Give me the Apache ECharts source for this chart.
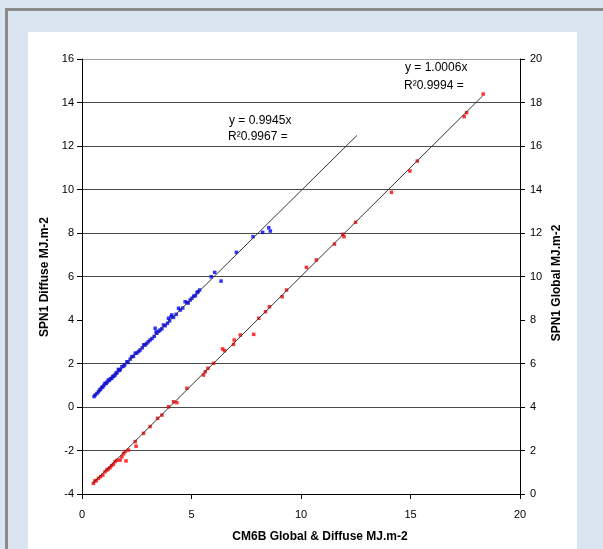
<!DOCTYPE html>
<html><head><meta charset="utf-8">
<script src="https://cdn.jsdelivr.net/npm/echarts@6/dist/echarts.min.js"></script>
<style>
html,body{margin:0;padding:0;width:603px;height:549px;overflow:hidden;background:#dbe5f1;}
#topb{position:absolute;left:5px;top:8px;width:598px;height:3px;background:#8a8a8a;}
#leftb{position:absolute;left:5px;top:8px;width:3px;height:541px;background:#8a8a8a;}
#panel{position:absolute;left:28px;top:32px;width:549px;height:517px;background:#fff;}
#c{position:absolute;left:0;top:0;width:603px;height:549px;}
</style></head>
<body>
<div id="topb"></div><div id="leftb"></div><div id="panel"></div>
<div id="c"></div>
<script>
// Axis titles
const xTitle = 'CM6B Global & Diffuse MJ.m-2';
const yLeftTitle = 'SPN1 Diffuse MJ.m-2';
const yRightTitle = 'SPN1 Global MJ.m-2';

// Diffuse (blue, left axis): CM6B x vs SPN1 y
const diffuseX = [0.55,0.6,0.68,0.75,0.8,0.85,0.9,0.95,1.0,1.05,1.1,1.15,1.2,1.25,1.3,1.36,1.4,1.45,1.51,1.55,1.6,1.66,1.7,1.75,1.82,1.9,1.95,2.05,2.1,2.2,2.27,2.35,2.43,2.5,2.58,2.65,2.75,2.82,2.88,2.95,3.03,3.11,3.2,3.3,3.34,3.38,3.42,3.5,3.57,3.65,3.72,3.8,3.9,3.95,4.0,4.07,4.1,4.18,4.3,4.41,4.49,4.6,4.71,4.79,4.85,4.94,5.02,5.1,5.18,5.25,5.3,5.37,5.9,6.06,6.35,7.05,7.81,8.25,8.53,8.6];
const diffuseY = [0.48,0.55,0.62,0.7,0.78,0.82,0.9,0.92,1.0,1.09,1.08,1.15,1.24,1.22,1.3,1.32,1.4,1.42,1.47,1.55,1.58,1.73,1.68,1.72,1.85,1.88,1.94,2.08,2.05,2.2,2.31,2.33,2.47,2.48,2.55,2.62,2.72,2.86,2.85,2.92,3.0,3.08,3.15,3.25,3.62,3.45,3.39,3.48,3.54,3.6,3.77,3.74,3.85,4.08,3.96,4.15,4.23,4.12,4.26,4.54,4.46,4.55,4.84,4.8,4.78,4.92,5.0,5.1,5.12,5.26,5.3,5.38,5.99,6.19,5.79,7.11,7.83,8.03,8.24,8.09];

// Global (red, right axis)
const globalX = [0.52,0.59,0.65,0.75,0.85,0.95,1.05,1.13,1.2,1.28,1.35,1.43,1.51,1.6,1.74,1.82,1.9,1.97,2.01,2.12,2.43,2.47,2.81,3.11,3.45,3.65,3.95,4.18,4.33,4.79,5.55,5.63,5.75,6.01,6.42,6.51,6.92,6.95,7.23,7.84,8.07,8.38,8.56,9.14,9.34,10.25,10.7,11.53,11.91,11.96,12.49,14.13,14.97,15.31,17.45,17.56,18.32];
const globalY = [0.49,0.6,0.62,0.72,0.8,0.87,1.02,1.1,1.15,1.21,1.3,1.37,1.49,1.55,1.56,1.71,1.85,1.95,1.52,2.02,2.41,2.2,2.79,3.1,3.48,3.63,4.01,4.24,4.2,4.86,5.47,5.62,5.78,6.01,6.67,6.59,6.88,7.08,7.31,7.34,8.08,8.38,8.61,9.07,9.38,10.42,10.76,11.49,11.94,11.83,12.49,13.87,14.85,15.31,17.35,17.53,18.39];

// Trendlines (Excel linear, forced through zero)
const diffuseSlope = 0.9945, diffuseTrendX = [0.5, 12.55];
const globalSlope = 1.0006, globalTrendX = [0.5, 18.3];
const diffuseLabel = ['y = 0.9945x', 'R\u00b20.9967 ='];
const globalLabel = ['y = 1.0006x', 'R\u00b20.9994 ='];

const leftTicks = {min:-4, max:16, interval:2};
const rightTicks = {min:0, max:20, interval:2};
const xTicks = {min:0, max:20, interval:5};

const zip = (a,b) => a.map((v,i)=>[v,b[i]]);
const FONT = '"Liberation Sans", Arial, sans-serif';
const labelStyle = {color:'#000', fontSize:11, fontFamily:FONT};
const GRID = '#4a4a4a';
const TITLE_FONT = 'bold 12px ' + FONT;
const ANN_FONT = '12px ' + FONT;

const chart = echarts.init(document.getElementById('c'), null, {renderer:'canvas'});
chart.setOption({
  backgroundColor:'transparent',
  animation:false,
  grid:{left:82, right:83, top:59, bottom:55, containLabel:false},
  xAxis:{type:'value', min:xTicks.min, max:xTicks.max, interval:xTicks.interval,
    axisLine:{show:true, onZero:false, lineStyle:{color:'#000', width:1}},
    axisTick:{show:true, inside:false, length:5, lineStyle:{color:'#000'}},
    axisLabel:Object.assign({margin:15}, labelStyle),
    splitLine:{show:false}},
  yAxis:[
    {type:'value', position:'left', min:leftTicks.min, max:leftTicks.max, interval:leftTicks.interval,
     axisLine:{show:true, onZero:false, lineStyle:{color:'#000'}},
     axisTick:{show:true, length:5, lineStyle:{color:'#000'}},
     axisLabel:Object.assign({margin:8}, labelStyle),
     splitLine:{show:true, lineStyle:{width:1, color:['#000',GRID,GRID,GRID,'rgba(0,0,0,0)',GRID,GRID,GRID,GRID,GRID,'#a0a0a0']}}},
    {type:'value', position:'right', min:rightTicks.min, max:rightTicks.max, interval:rightTicks.interval,
     axisLine:{show:true, onZero:false, lineStyle:{color:'#000'}},
     axisTick:{show:true, length:5, lineStyle:{color:'#000'}},
     axisLabel:Object.assign({margin:10}, labelStyle),
     splitLine:{show:false}},
    {type:'value', position:'right', min:rightTicks.min, max:rightTicks.max, interval:rightTicks.interval,
     axisLine:{show:false}, axisTick:{show:true, inside:true, length:4, lineStyle:{color:'#000'}},
     axisLabel:{show:false}, splitLine:{show:false}}
  ],
  graphic:[
    {type:'text', x:320, y:537, style:{text:xTitle, fill:'#000', font:TITLE_FONT, align:'center', verticalAlign:'middle'}},
    {type:'text', x:45, y:277, rotation:Math.PI/2, style:{text:yLeftTitle, fill:'#000', font:TITLE_FONT, align:'center', verticalAlign:'middle'}},
    {type:'text', x:557, y:283, rotation:Math.PI/2, style:{text:yRightTitle, fill:'#000', font:TITLE_FONT, align:'center', verticalAlign:'middle'}},
    {type:'text', x:405, y:68, style:{text:globalLabel[0], fill:'#000', font:ANN_FONT, verticalAlign:'middle'}},
    {type:'text', x:404, y:86, style:{text:globalLabel[1], fill:'#000', font:ANN_FONT, verticalAlign:'middle'}},
    {type:'text', x:229, y:121, style:{text:diffuseLabel[0], fill:'#000', font:ANN_FONT, verticalAlign:'middle'}},
    {type:'text', x:228, y:137, style:{text:diffuseLabel[1], fill:'#000', font:ANN_FONT, verticalAlign:'middle'}}
  ],
  series:[
    {type:'scatter', yAxisIndex:0, data:zip(diffuseX, diffuseY), symbol:'rect', symbolSize:3.5,
     itemStyle:{color:'#0000ff'}, z:2, silent:true},
    {type:'scatter', yAxisIndex:1, data:zip(globalX, globalY), symbol:'rect', symbolSize:3.5,
     itemStyle:{color:'#ff0000'}, z:2, silent:true},
    {type:'line', yAxisIndex:0, data:diffuseTrendX.map(x=>[x, diffuseSlope*x]), symbol:'none',
     lineStyle:{color:'#333', width:1}, z:3, silent:true},
    {type:'line', yAxisIndex:1, data:globalTrendX.map(x=>[x, globalSlope*x]), symbol:'none',
     lineStyle:{color:'#333', width:1}, z:3, silent:true}
  ]
});
</script>
</body></html>
